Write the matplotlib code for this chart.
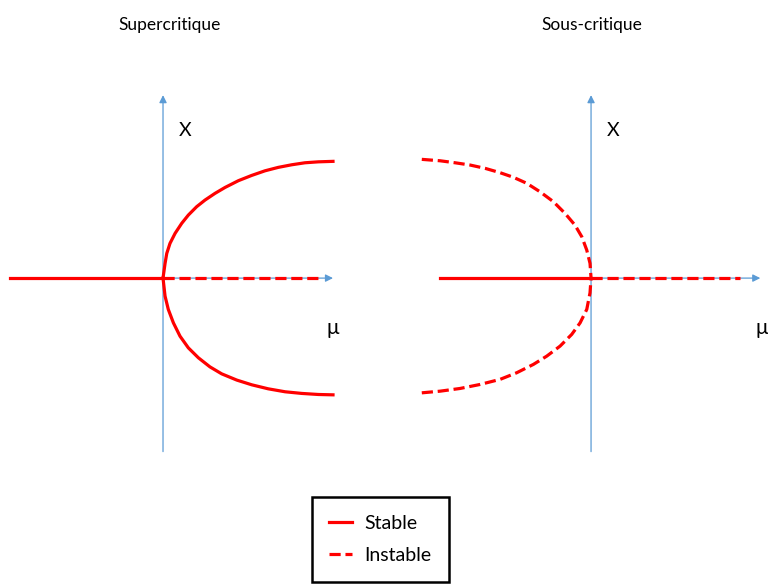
import matplotlib.pyplot as plt

# Points (mu, x), origin = bifurcation point.
# Supercritical pitchfork: stable branches for mu > 0
super_mu_upper = [0.0, 0.012, 0.022, 0.041, 0.071, 0.110, 0.149, 0.198, 0.247, 0.306,
                  0.365, 0.443, 0.522, 0.600, 0.678, 0.757, 0.835, 0.914, 1.0]
super_x_upper = [0.0, 0.124, 0.209, 0.294, 0.379, 0.464, 0.534, 0.605, 0.661, 0.718,
                 0.768, 0.825, 0.870, 0.909, 0.938, 0.960, 0.977, 0.985, 0.989]
super_mu_lower = [0.0, 0.012, 0.031, 0.061, 0.100, 0.149, 0.208, 0.276, 0.345, 0.434,
                  0.522, 0.619, 0.718, 0.816, 0.914, 1.0]
super_x_lower = [0.0, -0.153, -0.265, -0.379, -0.492, -0.591, -0.675, -0.752, -0.811,
                 -0.864, -0.904, -0.938, -0.963, -0.977, -0.986, -0.989]
super_stable_mu = [-0.9, 0.0]
super_unstable_mu = [0.0, 0.91]

# Subcritical pitchfork: unstable branches for mu < 0
sub_mu_upper = [-0.990, -0.883, -0.795, -0.708, -0.620, -0.532, -0.454, -0.376, -0.298,
                -0.220, -0.152, -0.094, -0.054, -0.025, -0.006, 0.0]
sub_x_upper = [1.006, 0.994, 0.977, 0.958, 0.930, 0.893, 0.854, 0.803, 0.731,
               0.647, 0.548, 0.449, 0.350, 0.237, 0.125, 0.0]
sub_mu_lower = [-0.990, -0.883, -0.766, -0.649, -0.532, -0.435, -0.337, -0.259, -0.181,
                -0.113, -0.064, -0.025, -0.006, 0.0]
sub_x_lower = [-0.972, -0.958, -0.935, -0.901, -0.858, -0.802, -0.731, -0.661, -0.576,
               -0.477, -0.379, -0.265, -0.125, 0.0]
sub_stable_mu = [-0.883, 0.0]
sub_unstable_mu = [0.0, 0.871]

titles = ["Supercritique", "Sous-critique"]
legend_labels = ["Stable", "Instable"]

red = "#ff0000"
blue = "#5b9bd5"
dash = (0, (3.5, 1.5))
font = ["Lato", "DejaVu Sans"]

fig = plt.figure(figsize=(7.68, 5.85), dpi=100)
ax1 = fig.add_axes([0, 0, 0.5, 1])
ax2 = fig.add_axes([0.5, 0, 0.5, 1])
ax1.set_xlim(-0.959, 1.3)
ax2.set_xlim(-1.211, 1.035)
for ax in (ax1, ax2):
    ax.set_ylim(-2.60, 2.356)
    ax.axis("off")


def draw_axes(ax, mu_start, mu_end):
    arrow = dict(arrowstyle="-|>", color=blue, lw=0.9, mutation_scale=11,
                 shrinkA=0, shrinkB=0)
    ax.annotate("", xy=(mu_end, 0), xytext=(mu_start, 0), arrowprops=arrow, zorder=1)
    ax.annotate("", xy=(0, 1.55), xytext=(0, -1.47), arrowprops=arrow, zorder=1)
    ax.text(0.13, 1.25, "X", fontsize=14, family=font, ha="center", va="center")
    ax.text(1.0, -0.42, "μ", fontsize=15, family=font, ha="center", va="center")


# Left: supercritical
draw_axes(ax1, -0.9, 1.0)
stable_line, = ax1.plot(super_stable_mu, [0, 0], color=red, lw=2.3, zorder=3)
unstable_line, = ax1.plot(super_unstable_mu, [0, 0], color=red, lw=2.3,
                          linestyle=dash, zorder=3)
ax1.plot(super_mu_upper, super_x_upper, color=red, lw=2.3, zorder=3)
ax1.plot(super_mu_lower, super_x_lower, color=red, lw=2.3, zorder=3)

# Right: subcritical
draw_axes(ax2, -0.883, 0.99)
ax2.plot(sub_stable_mu, [0, 0], color=red, lw=2.3, zorder=3)
ax2.plot(sub_unstable_mu, [0, 0], color=red, lw=2.3, linestyle=dash, zorder=3)
ax2.plot(sub_mu_upper, sub_x_upper, color=red, lw=2.3, linestyle=dash, zorder=3)
ax2.plot(sub_mu_lower, sub_x_lower, color=red, lw=2.3, linestyle=dash, zorder=3)

fig.text(0.221, 0.957, titles[0], fontsize=12.5, family=font, ha="center", va="center")
fig.text(0.771, 0.957, titles[1], fontsize=12.5, family=font, ha="center", va="center")

leg = fig.legend([stable_line, unstable_line], legend_labels, loc="center",
                 bbox_to_anchor=(0.495, 0.078), fancybox=False, framealpha=1,
                 handlelength=1.2, handletextpad=0.6, borderpad=0.9,
                 labelspacing=0.8, prop={"family": font, "size": 14})
leg.get_frame().set_edgecolor("black")
leg.get_frame().set_linewidth(1.8)

fig.savefig("out.png", dpi=100)
